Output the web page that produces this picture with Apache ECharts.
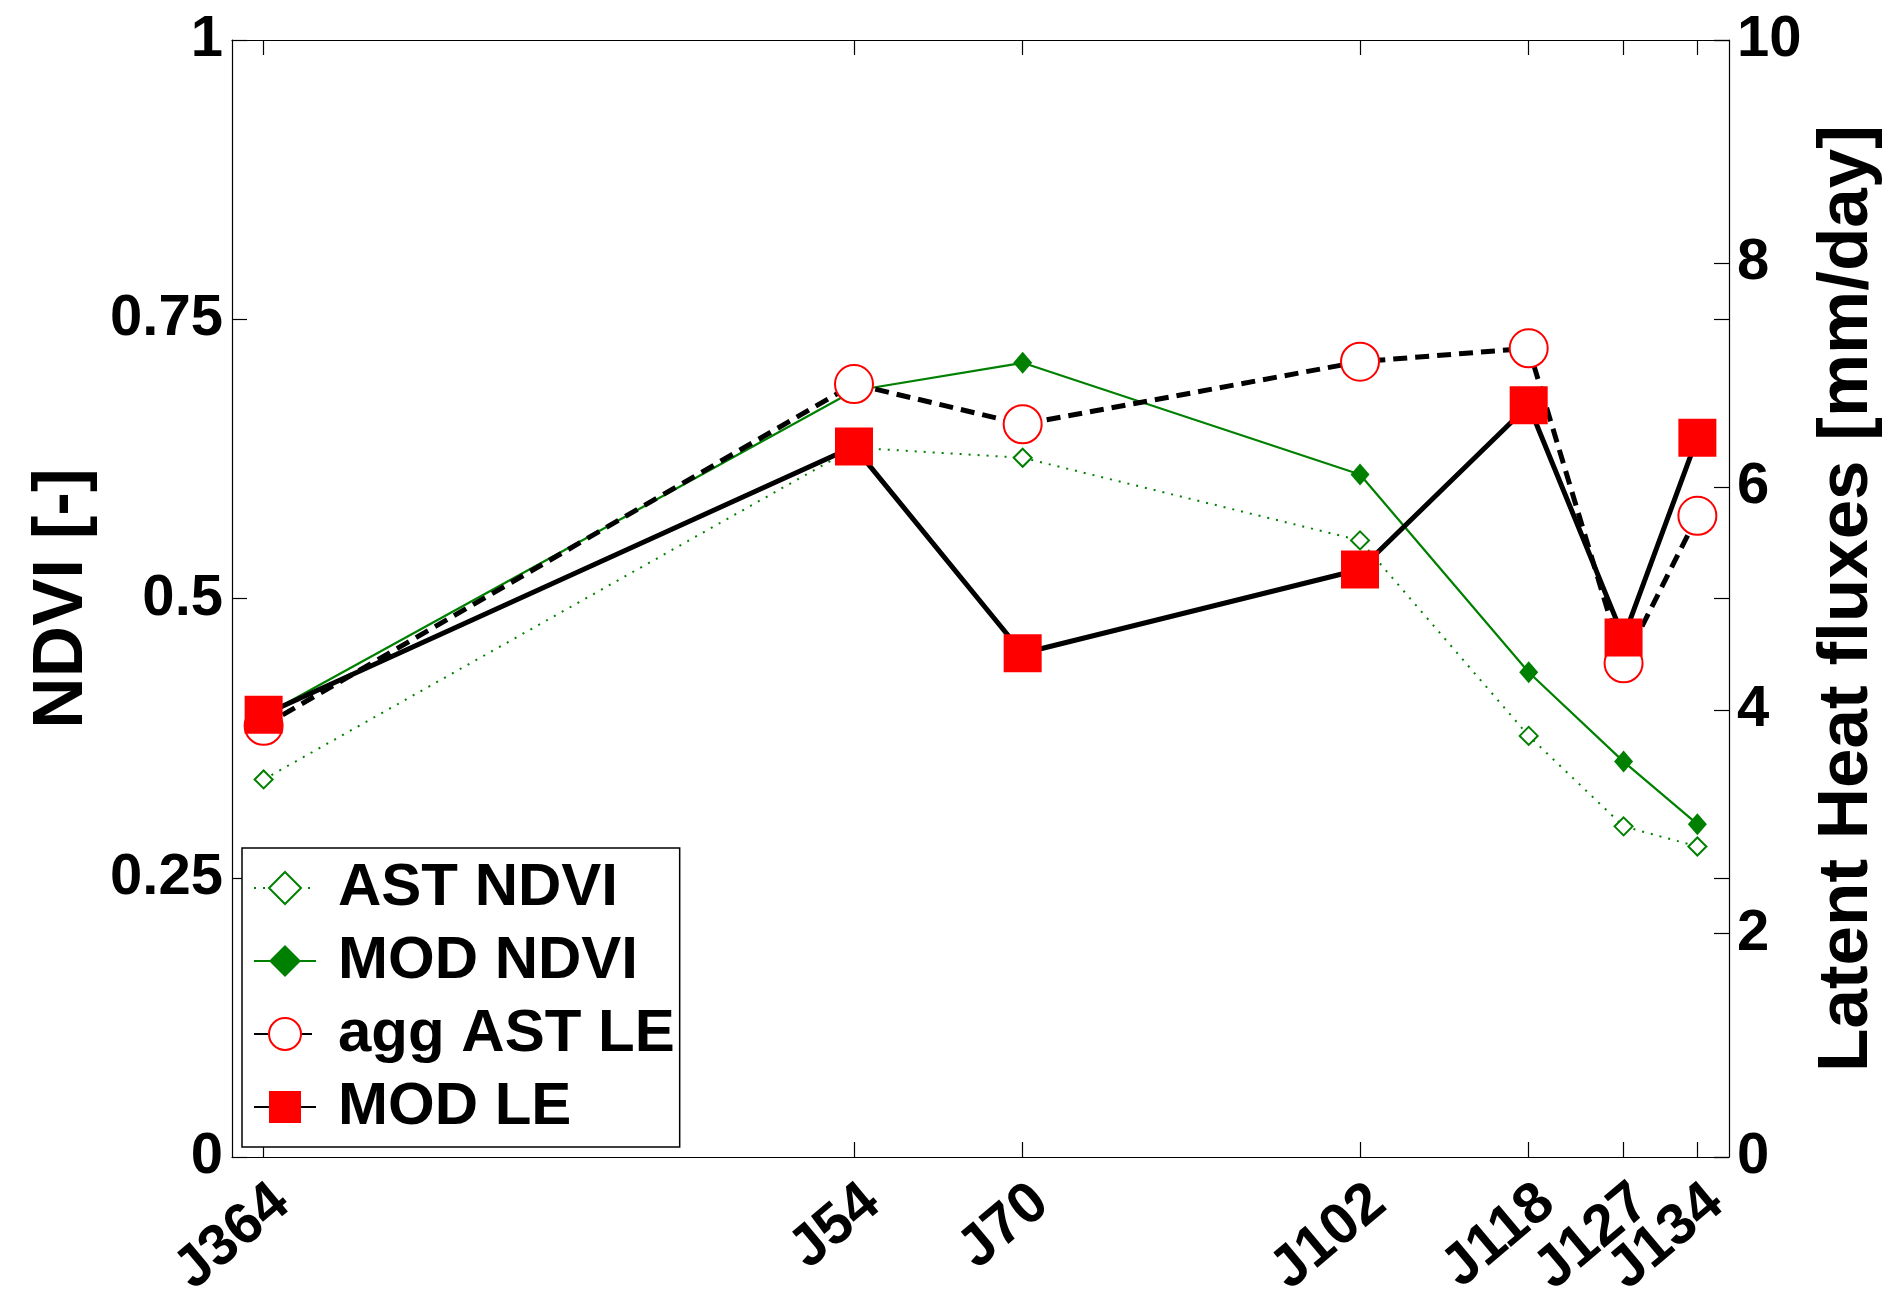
<!DOCTYPE html>
<html>
<head>
<meta charset="utf-8">
<title>NDVI and LE</title>
<script src="https://cdn.jsdelivr.net/npm/echarts@6/dist/echarts.min.js"></script>
<style>
  html, body { margin: 0; padding: 0; background: #fff; }
  #chart { width: 1899px; height: 1313px; }
</style>
</head>
<body>
<div id="chart"></div>
<script>
// x positions as day of year (J364 of the previous year = day -2)
var days = [-2, 54, 70, 102, 118, 127, 134];
var dayLabels = ['J364', 'J54', 'J70', 'J102', 'J118', 'J127', 'J134'];

// NDVI [-], left axis
var astNdvi = [0.338, 0.635, 0.626, 0.552, 0.377, 0.296, 0.278];
var modNdvi = [0.395, 0.686, 0.711, 0.611, 0.434, 0.354, 0.298];

// latent heat flux [mm/day], right axis
var aggAstLe = [3.86, 6.92, 6.56, 7.12, 7.24, 4.42, 5.74];
var modLe = [3.96, 6.36, 4.51, 5.26, 6.73, 4.65, 6.44];

var seriesNames = ['AST NDVI', 'MOD NDVI', 'agg AST LE', 'MOD LE'];

function pairs(xs, ys) {
    var out = [];
    for (var i = 0; i < xs.length; i++) {
        out.push([xs[i], ys[i]]);
    }
    return out;
}

// labels are split over two stacked axes so echarts does not drop the
// overlapping J127 / J134 pair
var daysEven = days.filter(function (d, i) { return i % 2 === 0; });
var daysOdd = days.filter(function (d, i) { return i % 2 === 1; });

var chart = echarts.init(document.getElementById('chart'));
var font = 'Liberation Sans, Arial, sans-serif';
var green = '#008000';
var red = '#ff0000';

var tickStyle = { inside: true, length: 15, lineStyle: { color: '#000', width: 1.2 } };
var lineStyleAxis = { show: true, onZero: false, lineStyle: { color: '#000', width: 1.2 } };

function dayLabel(values) {
    return {
        customValues: values,
        hideOverlap: false,
        rotate: 40,
        margin: 54,
        padding: [0, -24, 0, 0],
        fontFamily: font,
        fontSize: 58,
        fontWeight: 'bold',
        color: '#000',
        formatter: function (v) {
            var i = days.indexOf(v);
            return i >= 0 ? dayLabels[i] : '';
        }
    };
}

var option = {
    animation: false,
    backgroundColor: '#fff',
    grid: { left: 232, right: 170, top: 40, bottom: 156 },
    legend: {
        orient: 'vertical',
        left: 242,
        top: 848,
        data: seriesNames,
        backgroundColor: '#fff',
        borderColor: '#000',
        borderWidth: 1.5,
        padding: [10, 5, 10, 11],
        itemWidth: 62,
        itemHeight: 40,
        itemGap: 13,
        textStyle: {
            fontFamily: font, fontSize: 60, fontWeight: 'bold', color: '#000',
            lineHeight: 60, padding: [0, 0, 0, 17]
        }
    },
    xAxis: [
        {
            type: 'value',
            position: 'bottom',
            min: -5,
            max: 137,
            axisLine: lineStyleAxis,
            splitLine: { show: false },
            axisTick: Object.assign({ customValues: days }, tickStyle),
            axisLabel: dayLabel(daysEven)
        },
        {
            type: 'value',
            position: 'bottom',
            min: -5,
            max: 137,
            axisLine: { show: false, onZero: false },
            splitLine: { show: false },
            axisTick: { show: false },
            axisLabel: dayLabel(daysOdd)
        },
        {
            type: 'value',
            position: 'top',
            min: -5,
            max: 137,
            axisLine: lineStyleAxis,
            splitLine: { show: false },
            axisTick: Object.assign({ customValues: days }, tickStyle),
            axisLabel: { show: false }
        }
    ],
    yAxis: [
        {
            type: 'value',
            position: 'left',
            min: 0,
            max: 1,
            interval: 0.25,
            name: 'NDVI [-]',
            nameLocation: 'middle',
            nameRotate: 90,
            nameGap: 134,
            nameTextStyle: { fontFamily: font, fontSize: 71, fontWeight: 'bold', color: '#000' },
            axisLine: lineStyleAxis,
            splitLine: { show: false },
            axisTick: tickStyle,
            axisLabel: { margin: 9, fontFamily: font, fontSize: 58, fontWeight: 'bold', color: '#000' }
        },
        {
            type: 'value',
            position: 'right',
            min: 0,
            max: 10,
            interval: 2,
            name: 'Latent Heat fluxes [mm/day]',
            nameLocation: 'middle',
            nameRotate: 90,
            nameGap: 73,
            nameTextStyle: { fontFamily: font, fontSize: 71, fontWeight: 'bold', color: '#000' },
            axisLine: lineStyleAxis,
            splitLine: { show: false },
            axisTick: tickStyle,
            axisLabel: { margin: 8, fontFamily: font, fontSize: 58, fontWeight: 'bold', color: '#000' }
        },
        {
            // mirror of the NDVI ticks on the right edge
            type: 'value',
            position: 'right',
            min: 0,
            max: 1,
            interval: 0.25,
            axisLine: { show: false, onZero: false },
            splitLine: { show: false },
            axisTick: tickStyle,
            axisLabel: { show: false }
        }
    ],
    series: [
        {
            name: 'AST NDVI',
            type: 'line',
            yAxisIndex: 0,
            data: pairs(days, astNdvi),
            symbol: 'emptyDiamond',
            symbolSize: 18,
            itemStyle: { color: green, borderWidth: 2 },
            lineStyle: { color: green, width: 2, type: [2, 7] }
        },
        {
            name: 'MOD NDVI',
            type: 'line',
            yAxisIndex: 0,
            data: pairs(days, modNdvi),
            symbol: 'diamond',
            symbolSize: [19, 22],
            itemStyle: { color: green },
            lineStyle: { color: green, width: 2.2 }
        },
        {
            name: 'agg AST LE',
            type: 'line',
            yAxisIndex: 1,
            data: pairs(days, aggAstLe),
            symbol: 'emptyCircle',
            symbolSize: 38,
            itemStyle: { color: red, borderWidth: 4 },
            lineStyle: { color: '#000', width: 5, type: [14, 8] }
        },
        {
            name: 'MOD LE',
            type: 'line',
            yAxisIndex: 1,
            data: pairs(days, modLe),
            symbol: 'rect',
            symbolSize: 38,
            itemStyle: { color: red },
            lineStyle: { color: '#000', width: 5 }
        }
    ]
};

chart.setOption(option);
</script>
</body>
</html>
